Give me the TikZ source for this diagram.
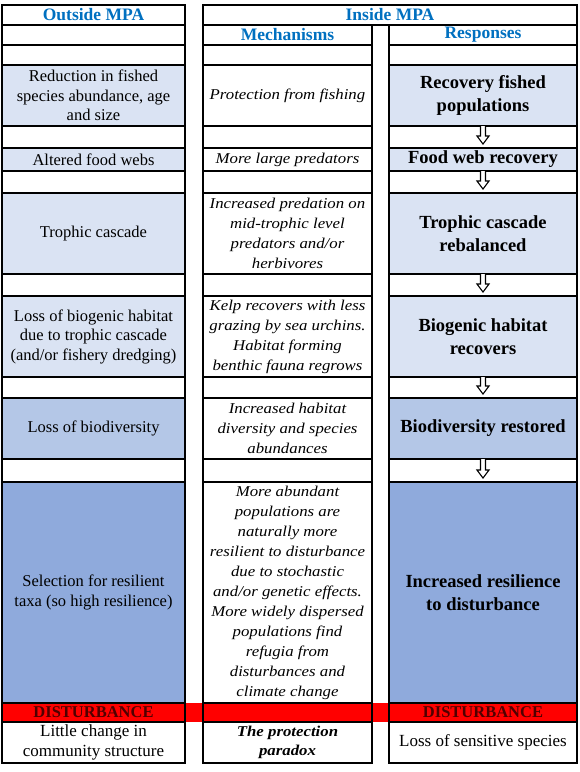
\documentclass[tikz,border=0pt]{standalone}
\usepackage{fontspec}
\setmainfont{Liberation Serif}
\newfontfamily\serfont{Liberation Serif}
\newfontfamily\midfont[FakeStretch=1.12]{Liberation Serif}
\usetikzlibrary{calc}
\definecolor{hblue}{RGB}{0,112,192}
\definecolor{lightb}{HTML}{DAE3F3}
\definecolor{midb}{HTML}{B4C7E7}
\definecolor{darkb}{HTML}{8FAADC}
\definecolor{dred}{RGB}{80,0,0}
\newcommand\hollowarr[2]{%
  \draw[harr] ($(#1.south)+(-2.5,0)$) -- ($(#2.north)+(-2.5,-12)$) -- ++(-3.5,0)
    -- ($(#2.north)+(0,-4)$) -- ($(#2.north)+(6,-12)$) -- ++(-3.5,0)
    -- ($(#1.south)+(2.5,0)$);}
\begin{document}
\begin{tikzpicture}[x=1pt,y=-1pt,
  cell/.style={draw=black, line width=1.6pt, inner sep=0pt, outer sep=0pt,
    align=center, anchor=north west, fill=white},
  lw/.style={minimum width=183pt},
  mw/.style={minimum width=169pt},
  rw/.style={minimum width=188pt},
  lt/.style={font=\serfont\fontsize{16.5}{19.5}\selectfont},
  bt/.style={font=\serfont\fontsize{17}{19.5}\selectfont},
  mt/.style={font=\midfont\itshape\fontsize{15}{20}\selectfont},
  rt/.style={font=\serfont\bfseries\fontsize{18.5}{23}\selectfont},
  hd/.style={font=\serfont\bfseries\fontsize{17.5}{20}\selectfont, text=hblue},
  dt/.style={font=\serfont\bfseries\fontsize{16.5}{19}\selectfont, text=dred},
  harr/.style={draw=black, line width=1.1pt, fill=white, line join=miter}]
\fill[white] (0,0) rectangle (580,772);
\useasboundingbox (0,0) rectangle (580,772);
% row 0
\node[cell,lw,minimum height=20pt,hd] (L0) at (2,5) {Outside MPA};
\node[cell,minimum width=374pt,minimum height=20pt,hd] (H0) at (203,5) {Inside MPA};
% row 1
\node[cell,lw,minimum height=20pt] (L1) at (2,25) {};
\node[cell,mw,minimum height=20pt,hd] (M1) at (203,25) {Mechanisms};
\node[cell,rw,minimum height=20pt,hd] (R1) at (389,25) {Responses};
% row 2
\node[cell,lw,minimum height=20pt] (L2) at (2,45) {};
\node[cell,mw,minimum height=20pt] (M2) at (203,45) {};
\node[cell,rw,minimum height=20pt] (R2) at (389,45) {};
% row 3
\node[cell,lw,minimum height=61pt,lt,fill=lightb] (L3) at (2,65) {Reduction in fished\\species abundance, age\\and size};
\node[cell,mw,minimum height=61pt,mt] (M3) at (203,65) {Protection from fishing};
\node[cell,rw,minimum height=61pt,rt,fill=lightb] (R3) at (389,65) {Recovery fished\\populations};
% row 4
\node[cell,lw,minimum height=22pt] (L4) at (2,126) {};
\node[cell,mw,minimum height=22pt] (M4) at (203,126) {};
\node[cell,rw,minimum height=22pt] (R4) at (389,126) {};
% row 5
\node[cell,lw,minimum height=23pt,lt,fill=lightb] (L5) at (2,148) {Altered food webs};
\node[cell,mw,minimum height=23pt,mt] (M5) at (203,148) {More large predators};
\node[cell,rw,minimum height=23pt,rt,fill=lightb] (R5) at (389,148) {Food web recovery};
% row 6
\node[cell,lw,minimum height=22pt] (L6) at (2,171) {};
\node[cell,mw,minimum height=22pt] (M6) at (203,171) {};
\node[cell,rw,minimum height=22pt] (R6) at (389,171) {};
% row 7
\node[cell,lw,minimum height=81pt,lt,fill=lightb] (L7) at (2,193) {Trophic cascade};
\node[cell,mw,minimum height=81pt,mt] (M7) at (203,193) {Increased predation on\\mid-trophic level\\predators and/or\\herbivores};
\node[cell,rw,minimum height=81pt,rt,fill=lightb] (R7) at (389,193) {Trophic cascade\\rebalanced};
% row 8
\node[cell,lw,minimum height=22pt] (L8) at (2,274) {};
\node[cell,mw,minimum height=22pt] (M8) at (203,274) {};
\node[cell,rw,minimum height=22pt] (R8) at (389,274) {};
% row 9
\node[cell,lw,minimum height=81pt,lt,fill=lightb] (L9) at (2,296) {Loss of biogenic habitat\\due to trophic cascade\\(and/or fishery dredging)};
\node[cell,mw,minimum height=81pt,mt] (M9) at (203,296) {Kelp recovers with less\\grazing by sea urchins.\\Habitat forming\\benthic fauna regrows};
\node[cell,rw,minimum height=81pt,rt,fill=lightb] (R9) at (389,296) {Biogenic habitat\\recovers};
% row 10
\node[cell,lw,minimum height=21pt] (L10) at (2,377) {};
\node[cell,mw,minimum height=21pt] (M10) at (203,377) {};
\node[cell,rw,minimum height=21pt] (R10) at (389,377) {};
% row 11
\node[cell,lw,minimum height=61pt,lt,fill=midb] (L11) at (2,398) {Loss of biodiversity};
\node[cell,mw,minimum height=61pt,mt] (M11) at (203,398) {Increased habitat\\diversity and species\\abundances};
\node[cell,rw,minimum height=61pt,rt,fill=midb] (R11) at (389,398) {Biodiversity restored};
% row 12
\node[cell,lw,minimum height=23pt] (L12) at (2,459) {};
\node[cell,mw,minimum height=23pt] (M12) at (203,459) {};
\node[cell,rw,minimum height=23pt] (R12) at (389,459) {};
% row 13
\node[cell,lw,minimum height=221pt,lt,fill=darkb] (L13) at (2,482) {Selection for resilient\\taxa (so high resilience)};
\node[cell,mw,minimum height=221pt,mt] (M13) at (203,482) {More abundant\\populations are\\naturally more\\resilient to disturbance\\due to stochastic\\and/or genetic effects.\\More widely dispersed\\populations find\\refugia from\\disturbances and\\climate change};
\node[cell,rw,minimum height=221pt,rt,fill=darkb] (R13) at (389,482) {Increased resilience\\to disturbance};
% row 14 (disturbance band)
\fill[red] (185,703) rectangle (203,722);
\fill[red] (372,703) rectangle (389,722);
\node[cell,lw,minimum height=19pt,dt,fill=red] (L14) at (2,703) {DISTURBANCE};
\node[cell,mw,minimum height=19pt,fill=red] (M14) at (203,703) {};
\node[cell,rw,minimum height=19pt,dt,fill=red] (R14) at (389,703) {DISTURBANCE};
% row 15
\node[cell,lw,minimum height=41pt,bt] (L15) at (2,722) {Little change in\\community structure};
\node[cell,mw,minimum height=41pt,font=\midfont\bfseries\itshape\fontsize{15}{19}\selectfont] (M15) at (203,722) {The protection\\paradox};
\node[cell,rw,minimum height=41pt,bt] (R15) at (389,722) {Loss of sensitive species};
% arrows
\hollowarr{R3}{R5}
\hollowarr{R5}{R7}
\hollowarr{R7}{R9}
\hollowarr{R9}{R11}
\hollowarr{R11}{R13}
\end{tikzpicture}
\end{document}
